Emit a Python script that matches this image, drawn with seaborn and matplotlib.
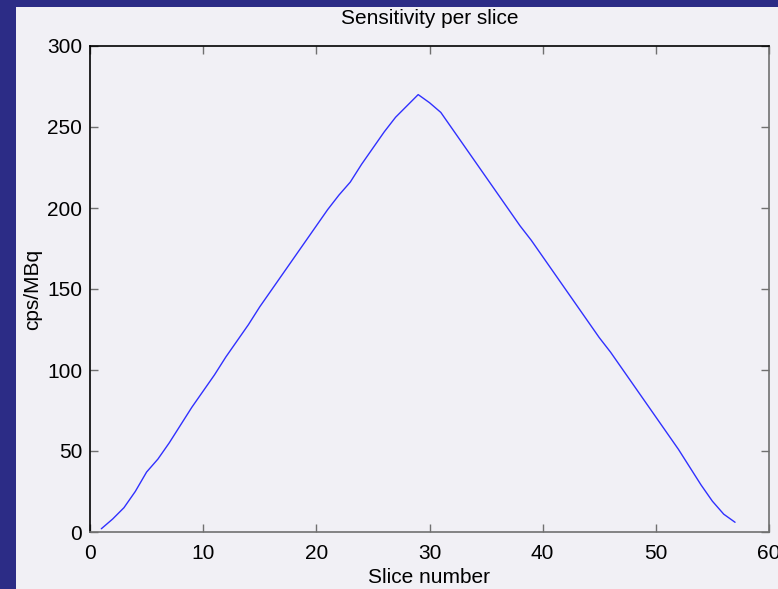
import numpy as np
import pandas as pd
import matplotlib
matplotlib.use("Agg")
import matplotlib.pyplot as plt
import seaborn as sns
from matplotlib.patches import Rectangle

slices = list(range(1, 58))
sensitivity = [2, 8, 15, 25, 37, 45, 55, 66, 77, 87,
               97, 108, 118, 128, 139, 149, 159, 169, 179, 189,
               199, 208, 216, 227, 237, 247, 256, 263, 270, 265,
               259, 249, 239, 229, 219, 209, 199, 189, 180, 170,
               160, 150, 140, 130, 120, 111, 101, 91, 81, 71,
               61, 51, 40, 29, 19, 11, 6]
x_ticks = [0, 10, 20, 30, 40, 50, 60]
y_ticks = [0, 50, 100, 150, 200, 250, 300]

df = pd.DataFrame({"slice": slices, "cps": sensitivity})

sns.set_style("white")
plt.rcParams["font.family"] = ["Liberation Sans", "DejaVu Sans"]
plt.rcParams["text.color"] = "black"
plt.rcParams["axes.labelcolor"] = "black"

panel = "#f1f0f5"
fig = plt.figure(figsize=(7.78, 5.89), dpi=100)
fig.patch.set_facecolor("#2c2c86")
fig.patches.append(Rectangle((16 / 778, 0), 1, 1 - 7 / 589, transform=fig.transFigure,
                             facecolor=panel, edgecolor="none", zorder=-10))

ax = fig.add_axes([90 / 778, 1 - 532 / 589, (769 - 90) / 778, (532 - 46) / 589])
ax.set_zorder(1)
ax.set_facecolor(panel)
sns.lineplot(data=df, x="slice", y="cps", ax=ax, color="#3030ff", lw=1)

ax.set_xlim(0, 60)
ax.set_ylim(0, 300)
ax.set_xticks(x_ticks)
ax.set_yticks(y_ticks)
ax.tick_params(direction="in", length=6, width=1, color="#707070", labelsize=15,
               labelcolor="black", top=True, right=True, bottom=True, left=True)
ax.tick_params(axis="x", pad=8.5)
ax.tick_params(axis="y", pad=5.5)
for s in ["top", "left"]:
    ax.spines[s].set_color("black")
for s in ["bottom", "right"]:
    ax.spines[s].set_color("#707070")
for s in ax.spines.values():
    s.set_linewidth(1.2)

ax.set_title("Sensitivity per slice", fontsize=15, pad=15.5, color="black")
ax.set_xlabel("Slice number", fontsize=15, labelpad=4)
ax.set_ylabel("cps/MBq", fontsize=15, labelpad=4)

fig.savefig("out.png", dpi=100, facecolor=fig.get_facecolor())
